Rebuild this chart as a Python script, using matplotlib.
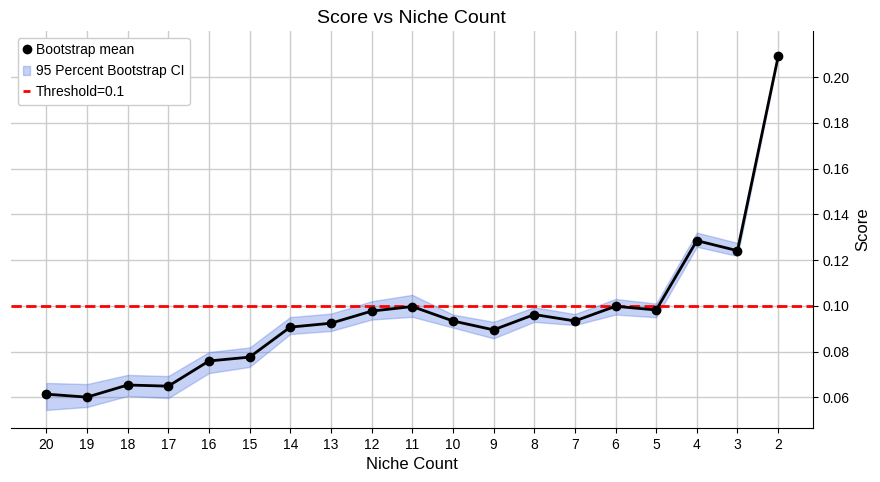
import numpy as np
import matplotlib
matplotlib.use('Agg')
import matplotlib.pyplot as plt

plt.rcParams['font.family'] = ['Liberation Sans', 'DejaVu Sans']

# niche counts (shown in descending order)
niche_counts = [20, 19, 18, 17, 16, 15, 14, 13, 12, 11, 10, 9, 8, 7, 6, 5, 4, 3, 2]
mean_score = [0.0614, 0.0601, 0.0654, 0.0649, 0.0759, 0.0776, 0.0907, 0.0924, 0.0977, 0.0997,
              0.0934, 0.0895, 0.0962, 0.0934, 0.0998, 0.0982, 0.1285, 0.1241, 0.2090]
ci_lower = [0.0545, 0.0558, 0.0606, 0.0597, 0.0706, 0.0733, 0.0877, 0.0890, 0.0940, 0.0952,
            0.0905, 0.0858, 0.0930, 0.0916, 0.0962, 0.0950, 0.1258, 0.1218, 0.2085]
ci_upper = [0.0663, 0.0658, 0.0698, 0.0693, 0.0798, 0.0818, 0.0951, 0.0966, 0.1020, 0.1048,
            0.0962, 0.0930, 0.0994, 0.0964, 0.1030, 0.1010, 0.1320, 0.1275, 0.2095]
threshold = 0.1

x = np.arange(len(niche_counts))

fig = plt.figure(figsize=(8.8, 4.82), dpi=100)
ax = fig.add_axes([0.012, 0.112, 0.912, 0.824])

ax.fill_between(x, ci_lower, ci_upper, color='royalblue', alpha=0.3, linewidth=1,
                label='95 Percent Bootstrap CI')
ax.plot(x, mean_score, color='black', linewidth=2, zorder=3)
ax.plot(x, mean_score, 'o', color='black', markersize=6, zorder=4, label='Bootstrap mean')
ax.axhline(threshold, color='red', linestyle='--', linewidth=2, label=f'Threshold={threshold}')

ax.set_xticks(x)
ax.set_xticklabels([str(n) for n in niche_counts])
ax.set_xlim(-0.88, 18.86)
ax.set_ylim(0.0466, 0.2202)
ax.set_yticks([0.06, 0.08, 0.10, 0.12, 0.14, 0.16, 0.18, 0.20])
ax.yaxis.set_major_formatter(matplotlib.ticker.FormatStrFormatter('%.2f'))

ax.yaxis.tick_right()
ax.yaxis.set_label_position('right')
ax.spines['left'].set_visible(False)
ax.spines['top'].set_visible(False)
ax.grid(True, color='#cccccc', linewidth=1)
ax.set_axisbelow(True)

ax.set_title('Score vs Niche Count', fontsize=14)
ax.set_xlabel('Niche Count', fontsize=12)
ax.set_ylabel('Score', fontsize=12)
ax.tick_params(labelsize=10)

handles, labels = ax.get_legend_handles_labels()
order = [labels.index('Bootstrap mean'), labels.index('95 Percent Bootstrap CI'),
         labels.index(f'Threshold={threshold}')]
ax.legend([handles[i] for i in order], [labels[i] for i in order], loc='upper left',
          handlelength=0.5, handletextpad=0.4, fontsize=10, framealpha=1)

fig.savefig('out.png', dpi=100)
